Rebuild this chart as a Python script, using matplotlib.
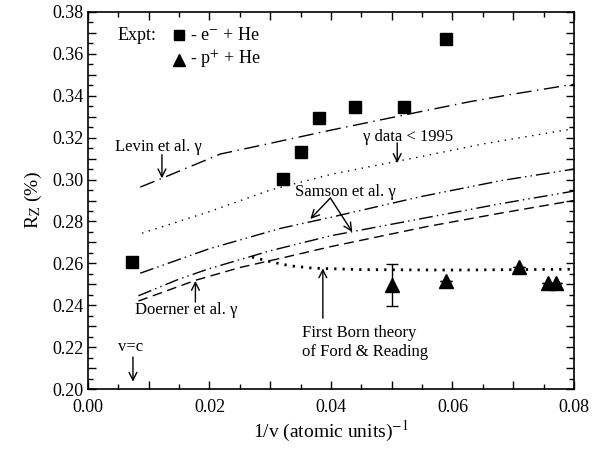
import numpy as np
import matplotlib
matplotlib.use("Agg")
import matplotlib.pyplot as plt
from matplotlib.ticker import MultipleLocator, FuncFormatter

plt.rcParams['font.family'] = ['Liberation Serif', 'DejaVu Serif']
plt.rcParams['mathtext.fontset'] = 'stix'

# experimental points
e_x = [0.0073, 0.0321, 0.0351, 0.0381, 0.0440, 0.0520, 0.0589]
e_y = [0.2606, 0.3004, 0.3133, 0.3296, 0.3347, 0.3347, 0.3673]

p_x = [0.0500, 0.0589, 0.0709, 0.0758, 0.0771]
p_y = [0.2497, 0.2516, 0.2584, 0.2505, 0.2505]
p_err = [0.0102, 0, 0, 0, 0]

# theory curves
levin_x = [0.0086, 0.0120, 0.0218, 0.0300, 0.0400, 0.0547, 0.0629, 0.0700, 0.0800]
levin_y = [0.2964, 0.3004, 0.3122, 0.3173, 0.3236, 0.3324, 0.3372, 0.3408, 0.3455]

old_x = [0.0089, 0.0200, 0.0300, 0.0400, 0.0547, 0.0650, 0.0800]
old_y = [0.2744, 0.2847, 0.2950, 0.3025, 0.3109, 0.3170, 0.3243]

samson1_x = [0.0086, 0.0200, 0.0317, 0.0400, 0.0547, 0.0680, 0.0800]
samson1_y = [0.2553, 0.2670, 0.2767, 0.2820, 0.2918, 0.2995, 0.3050]

samson2_x = [0.0083, 0.0150, 0.0200, 0.0300, 0.0400, 0.0557, 0.0680, 0.0800]
samson2_y = [0.2445, 0.2525, 0.2575, 0.2660, 0.2732, 0.2818, 0.2885, 0.2945]

doerner_x = [0.0083, 0.0178, 0.0250, 0.0317, 0.0400, 0.0557, 0.0680, 0.0800]
doerner_y = [0.2420, 0.2520, 0.2580, 0.2624, 0.2680, 0.2775, 0.2840, 0.2900]

born_x = [0.0270, 0.0300, 0.0333, 0.0370, 0.0450, 0.0600, 0.0700, 0.0800]
born_y = [0.2630, 0.2608, 0.2588, 0.2577, 0.2570, 0.2568, 0.2570, 0.2572]

fig = plt.figure(figsize=(6.15, 4.49), dpi=100)
ax = fig.add_axes([0.1431, 0.1336, 0.7902, 0.8397])

ax.plot(levin_x, levin_y, color='k', lw=1.0, linestyle=(0, (11, 4, 1, 4)))
ax.plot(old_x, old_y, color='k', lw=1.0, linestyle=(0, (1, 4)))
ax.plot(samson1_x, samson1_y, color='k', lw=1.0, linestyle=(0, (10, 3, 1, 3, 1, 3)))
ax.plot(samson2_x, samson2_y, color='k', lw=1.0, linestyle=(0, (10, 3, 1, 3, 1, 3)))
ax.plot(doerner_x, doerner_y, color='k', lw=1.0, linestyle=(0, (7, 4)))
ax.plot(born_x, born_y, color='k', lw=2.0, linestyle=(0, (0.8, 2.2)))

ax.plot(e_x, e_y, 's', color='k', ms=8.5)
ax.errorbar(p_x, p_y, yerr=p_err, fmt='^', color='k', ms=10, capsize=4, elinewidth=1, capthick=1)

# legend drawn by hand
ax.text(0.0048, 0.3690, 'Expt:', fontsize=13, va='center')
ax.plot([0.0150], [0.3690], 's', color='k', ms=7)
ax.plot([0.0150], [0.3571], '^', color='k', ms=9)
ax.text(0.0168, 0.3690, '- e$^{-}$ + He', fontsize=13, va='center')
ax.text(0.0168, 0.3571, '- p$^{+}$ + He', fontsize=13, va='center')

arr = dict(arrowstyle='->', lw=1.0, color='k', mutation_scale=14, shrinkA=0, shrinkB=0)

ax.text(0.0045, 0.3157, 'Levin et al. γ', fontsize=12, va='center')
ax.annotate('', xy=(0.01217, 0.3006), xytext=(0.01217, 0.3119), arrowprops=arr)

ax.text(0.0453, 0.3203, 'γ data < 1995', fontsize=12, va='center')
ax.annotate('', xy=(0.0509, 0.3079), xytext=(0.0509, 0.3175), arrowprops=arr)

ax.text(0.0341, 0.2941, 'Samson et al. γ', fontsize=12, va='center')
ax.annotate('', xy=(0.0366, 0.2812), xytext=(0.0399, 0.2912), arrowprops=arr)
ax.annotate('', xy=(0.0435, 0.2750), xytext=(0.0399, 0.2912), arrowprops=arr)

ax.text(0.0078, 0.2377, 'Doerner et al. γ', fontsize=12, va='center')
ax.annotate('', xy=(0.01768, 0.2516), xytext=(0.01768, 0.2415), arrowprops=arr)

ax.text(0.0353, 0.2222, 'First Born theory\nof Ford & Reading', fontsize=12, va='center')
ax.annotate('', xy=(0.03866, 0.2576), xytext=(0.03866, 0.2338), arrowprops=arr)

ax.text(0.0070, 0.2200, 'v=c', fontsize=12, va='center', ha='center')
ax.annotate('', xy=(0.0074, 0.2035), xytext=(0.0074, 0.2153), arrowprops=arr)

ax.set_xlim(0.0, 0.08)
ax.set_ylim(0.20, 0.38)

ax.xaxis.set_major_locator(MultipleLocator(0.01))
ax.xaxis.set_minor_locator(MultipleLocator(0.005))
ax.yaxis.set_major_locator(MultipleLocator(0.01))
ax.yaxis.set_minor_locator(MultipleLocator(0.005))

def every_other(v, pos):
    if round(v * 100) % 2 == 0:
        return '%.2f' % v
    return ''

ax.xaxis.set_major_formatter(FuncFormatter(every_other))
ax.yaxis.set_major_formatter(FuncFormatter(every_other))
ax.tick_params(which='both', direction='in', top=True, right=True, labelsize=13, width=1.0)
ax.tick_params(which='major', length=6)
ax.tick_params(which='minor', length=3.5)
ax.tick_params(axis='x', pad=7)
for s in ax.spines.values():
    s.set_linewidth(1.2)

ax.set_xlabel('1/v (atomic units)$^{-1}$', fontsize=14, labelpad=2)
ax.set_ylabel('R$_{\\rm Z}$ (%)', fontsize=14, labelpad=6)

fig.savefig('out.png', dpi=100)
